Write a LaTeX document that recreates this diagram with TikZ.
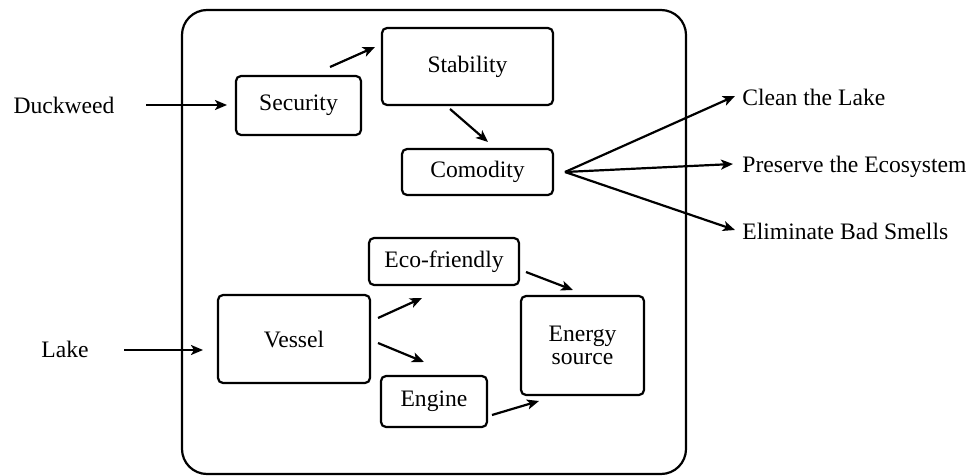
\documentclass[tikz,border=0pt]{standalone}
\usepackage{fontspec}
\setmainfont{Liberation Serif}
\usetikzlibrary{arrows.meta}
\begin{document}
\begin{tikzpicture}[x=0.5pt,y=-0.5pt,
  box/.style={draw, line width=1.1pt, rounded corners=2.5pt, inner sep=0pt, align=center,
    font=\fontsize{11.8}{13.5}\selectfont},
  lbl/.style={inner sep=0pt, font=\fontsize{11.8}{13.5}\selectfont},
  arr/.style={line width=1.1pt, -{Stealth[length=6pt,width=5pt,inset=1.5pt]}},
  frame/.style={line width=1.1pt, rounded corners=12.5pt}]
\useasboundingbox (0,0) rectangle (975,476);
% outer frame
\draw[frame] (182,10) rectangle (686,474);
% boxes
\node[box, minimum width=62.5pt, minimum height=29.5pt] (sec) at (298.5,105.5) {Security};
\node[box, minimum width=85.5pt, minimum height=38.5pt] (stab) at (467.5,66.5) {Stability};
\node[box, minimum width=75.5pt, minimum height=23pt] (com) at (477.5,172) {Comodity};
\node[box, minimum width=75pt, minimum height=23.5pt] (eco) at (444,261.5) {Eco-friendly};
\node[box, minimum width=76pt, minimum height=44pt] (vessel) at (294,339) {Vessel};
\node[box, minimum width=53pt, minimum height=25.5pt] (engine) at (434,401.5) {Engine};
\node[box, minimum width=61.5pt, minimum height=49.5pt] (energy) at (582.5,345.5) {Energy\\[-2pt]source};
% labels
\node[lbl, anchor=base] (duck) at (64,113.5) {Duckweed};
\node[lbl, anchor=base] (lake) at (65,357) {Lake};
\node[lbl, anchor=base west] (clean) at (742,105) {Clean the Lake};
\node[lbl, anchor=base west] (pres) at (742,173) {Preserve the Ecosystem};
\node[lbl, anchor=base west] (elim) at (742,239) {Eliminate Bad Smells};
% connector end points
\coordinate (duckS) at (146,105);  \coordinate (secW) at (227,105);
\coordinate (lakeS) at (124,350);  \coordinate (vesW) at (203,350);
\coordinate (secNE) at (330,67);   \coordinate (stabW) at (375,47);
\coordinate (stabS) at (450,109);  \coordinate (comN) at (488,142);
\coordinate (comE) at (565,172);
\coordinate (cleanT) at (735,96);  \coordinate (presT) at (733,164); \coordinate (elimT) at (735,230);
\coordinate (vesA) at (378,318);   \coordinate (ecoW) at (422,298);
\coordinate (vesB) at (378,343);   \coordinate (engN) at (424,362);
\coordinate (ecoE) at (526,272);   \coordinate (enN) at (573,290);
\coordinate (engE) at (492,415);   \coordinate (enS) at (539,401);
% connectors
\draw[arr] (duckS) -- (secW);
\draw[arr] (lakeS) -- (vesW);
\draw[arr] (secNE) -- (stabW);
\draw[arr] (stabS) -- (comN);
\draw[arr] (comE) -- (cleanT);
\draw[arr] (comE) -- (presT);
\draw[arr] (comE) -- (elimT);
\draw[arr] (vesA) -- (ecoW);
\draw[arr] (vesB) -- (engN);
\draw[arr] (ecoE) -- (enN);
\draw[arr] (engE) -- (enS);
\end{tikzpicture}
\end{document}
